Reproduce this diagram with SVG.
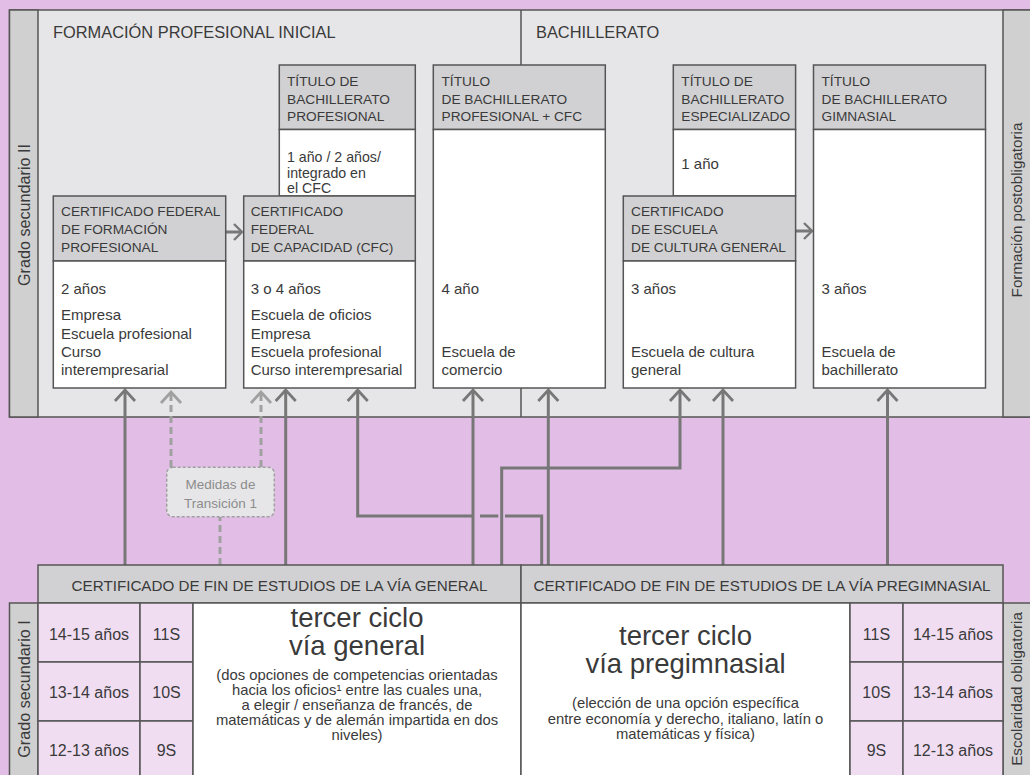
<svg xmlns="http://www.w3.org/2000/svg" width="1030" height="775" viewBox="0 0 1030 775">
<defs>
<style>
text{font-family:"Liberation Sans",Arial,sans-serif;fill:#3a3a3a}
.sec{font-size:16.4px}
.hd{font-size:13.7px}
.bd{font-size:15px}
.bds{font-size:14.2px}
.cert{font-size:15.2px}
.big{font-size:27.5px}
.par{font-size:14.8px}
.age{font-size:16px}
.vt{font-size:15.2px}
.vt2{font-size:16.2px}
.med{font-size:13.5px;fill:#8c8c8c}
.frame{stroke:#555;stroke-width:1.5}
.hdr{fill:#d1d1d3}
.wht{fill:#fff}
.band{fill:#d0d0d0}
.pink{fill:#f0ddf2}
.con{fill:none;stroke:#777;stroke-width:3}
.dash{fill:none;stroke:#a0a0a0;stroke-width:3;stroke-dasharray:7 4}
</style>
<marker id="ah" viewBox="-13 -12 16 24" refX="0" refY="0" markerWidth="16" markerHeight="24" markerUnits="userSpaceOnUse" orient="auto"><path d="M-11,-10 L0,0 L-11,10" fill="none" stroke="#777" stroke-width="2.8"/></marker>
<marker id="ahl" viewBox="-13 -12 16 24" refX="0" refY="0" markerWidth="16" markerHeight="24" markerUnits="userSpaceOnUse" orient="auto"><path d="M-11,-10 L0,0 L-11,10" fill="none" stroke="#a0a0a0" stroke-width="2.8"/></marker>
<marker id="ahs" viewBox="-10 -10 12 20" refX="0" refY="0" markerWidth="12" markerHeight="20" markerUnits="userSpaceOnUse" orient="auto"><path d="M-8,-8 L0,0 L-8,8" fill="none" stroke="#777" stroke-width="2.4"/></marker>
</defs>
<rect x="0" y="0" width="1030" height="775" fill="#e2bee6"/>

<g id="panel-top">
<rect x="9.5" y="10" width="1030" height="407" fill="#e6e6e8" class="frame"/>
<rect x="9.5" y="10" width="28.5" height="407" class="band frame"/>
<rect x="1003" y="10" width="40" height="407" class="band frame"/>
<line x1="521" y1="10" x2="521" y2="417" class="frame"/>
<text class="sec" x="53" y="38">FORMACIÓN PROFESIONAL INICIAL</text>
<text class="sec" x="536" y="38">BACHILLERATO</text>
<text class="vt2" text-anchor="middle" transform="translate(29.5,215) rotate(-90)">Grado secundario II</text>
<text class="vt" text-anchor="middle" transform="translate(1022,210) rotate(-90)">Formación postobligatoria</text>
</g>

<g id="connectors">
<path class="con" d="M125,565 V390" marker-end="url(#ah)"/>
<path class="con" d="M285.7,565 V390" marker-end="url(#ah)"/>
<path class="con" d="M473,565 V390" marker-end="url(#ah)"/>
<path class="con" d="M548.3,565 V390" marker-end="url(#ah)"/>
<path class="con" d="M723,565 V390" marker-end="url(#ah)"/>
<path class="con" d="M887.5,565 V390" marker-end="url(#ah)"/>
<path class="con" d="M501.7,565 V468 H680 V390" marker-end="url(#ah)"/>
<path class="con" d="M541.7,565 V516 H505"/>
<path class="con" d="M498.3,516 H480"/>
<path class="con" d="M472,516 H357.7 V390" marker-end="url(#ah)"/>
<path class="dash" d="M171,467 V392" marker-end="url(#ahl)"/>
<path class="dash" d="M261,467 V392" marker-end="url(#ahl)"/>
<path class="dash" d="M220,565 V517"/>
<path class="con" d="M226,232 H242" marker-end="url(#ahs)"/>
<path class="con" d="M796,231 H812" marker-end="url(#ahs)"/>
</g>

<g id="node-titulo-bach-prof">
<rect x="279.3" y="65" width="136" height="64.5" class="hdr frame"/>
<rect x="279.3" y="129.5" width="136" height="66.5" class="wht frame"/>
<text class="hd" x="287" y="86">TÍTULO DE</text>
<text class="hd" x="287" y="103.5">BACHILLERATO</text>
<text class="hd" x="287" y="121">PROFESIONAL</text>
<text class="bds" x="287" y="161.5">1 año / 2 años/</text>
<text class="bds" x="287" y="177.5">integrado en</text>
<text class="bds" x="287" y="193">el CFC</text>
</g>

<g id="node-titulo-bach-prof-cfc">
<rect x="433.3" y="65" width="172" height="64.5" class="hdr frame"/>
<rect x="433.3" y="129.5" width="172" height="258.5" class="wht frame"/>
<text class="hd" x="441.5" y="86">TÍTULO</text>
<text class="hd" x="441.5" y="103.5">DE BACHILLERATO</text>
<text class="hd" x="441.5" y="121">PROFESIONAL + CFC</text>
<text class="bd" x="441.5" y="294">4 año</text>
<text class="bd" x="441.5" y="357">Escuela de</text>
<text class="bd" x="441.5" y="375">comercio</text>
</g>

<g id="node-titulo-bach-esp">
<rect x="673.3" y="65" width="122.3" height="64.5" class="hdr frame"/>
<rect x="673.3" y="129.5" width="122.3" height="66.5" class="wht frame"/>
<text class="hd" x="681.3" y="86">TÍTULO DE</text>
<text class="hd" x="681.3" y="103.5">BACHILLERATO</text>
<text class="hd" x="681.3" y="121">ESPECIALIZADO</text>
<text class="bd" x="681.3" y="169">1 año</text>
</g>

<g id="node-titulo-bach-gimn">
<rect x="813.5" y="65" width="172" height="64.5" class="hdr frame"/>
<rect x="813.5" y="129.5" width="172" height="258.5" class="wht frame"/>
<text class="hd" x="821.5" y="86">TÍTULO</text>
<text class="hd" x="821.5" y="103.5">DE BACHILLERATO</text>
<text class="hd" x="821.5" y="121">GIMNASIAL</text>
<text class="bd" x="821.5" y="294">3 años</text>
<text class="bd" x="821.5" y="357">Escuela de</text>
<text class="bd" x="821.5" y="375">bachillerato</text>
</g>

<g id="node-cert-fed-form">
<rect x="53.3" y="196" width="172.4" height="65" class="hdr frame"/>
<rect x="53.3" y="261" width="172.4" height="127" class="wht frame"/>
<text class="hd" x="61" y="216">CERTIFICADO FEDERAL</text>
<text class="hd" x="61" y="234">DE FORMACIÓN</text>
<text class="hd" x="61" y="252">PROFESIONAL</text>
<text class="bd" x="61" y="294">2 años</text>
<text class="bd" x="61" y="320">Empresa</text>
<text class="bd" x="61" y="338.5">Escuela profesional</text>
<text class="bd" x="61" y="357">Curso</text>
<text class="bd" x="61" y="375">interempresarial</text>
</g>

<g id="node-cfc">
<rect x="243.7" y="196" width="171.6" height="65" class="hdr frame"/>
<rect x="243.7" y="261" width="171.6" height="127" class="wht frame"/>
<text class="hd" x="250.7" y="216">CERTIFICADO</text>
<text class="hd" x="250.7" y="234">FEDERAL</text>
<text class="hd" x="250.7" y="252">DE CAPACIDAD (CFC)</text>
<text class="bd" x="250.7" y="294">3 o 4 años</text>
<text class="bd" x="250.7" y="320">Escuela de oficios</text>
<text class="bd" x="250.7" y="338.5">Empresa</text>
<text class="bd" x="250.7" y="357">Escuela profesional</text>
<text class="bd" x="250.7" y="375">Curso interempresarial</text>
</g>

<g id="node-cert-cultura">
<rect x="623.3" y="196" width="172.3" height="65" class="hdr frame"/>
<rect x="623.3" y="261" width="172.3" height="127" class="wht frame"/>
<text class="hd" x="631" y="216">CERTIFICADO</text>
<text class="hd" x="631" y="234">DE ESCUELA</text>
<text class="hd" x="631" y="252">DE CULTURA GENERAL</text>
<text class="bd" x="631" y="294">3 años</text>
<text class="bd" x="631" y="357">Escuela de cultura</text>
<text class="bd" x="631" y="375">general</text>
</g>

<g id="node-medidas">
<rect x="166.7" y="467.3" width="107.6" height="49.4" rx="6" fill="#e6e6e8" stroke="#a0a0a0" stroke-width="1.5" stroke-dasharray="3 2"/>
<text class="med" x="220.5" y="489.3" text-anchor="middle">Medidas de</text>
<text class="med" x="220.5" y="507.7" text-anchor="middle">Transición 1</text>
</g>

<g id="node-cert-general">
<rect x="38" y="565" width="483" height="38" class="hdr frame"/>
<text class="cert" x="279.5" y="591" text-anchor="middle">CERTIFICADO DE FIN DE ESTUDIOS DE LA VÍA GENERAL</text>
</g>

<g id="node-cert-pregimn">
<rect x="521" y="565" width="482" height="38" class="hdr frame"/>
<text class="cert" x="762" y="591" text-anchor="middle">CERTIFICADO DE FIN DE ESTUDIOS DE LA VÍA PREGIMNASIAL</text>
</g>

<g id="node-grado-sec-1">
<rect x="9.5" y="603" width="28.5" height="190" class="band frame"/>
<text class="vt2" text-anchor="middle" transform="translate(29.5,689) rotate(-90)">Grado secundario I</text>
<rect x="1003" y="603" width="40" height="190" class="band frame"/>
<text class="vt" text-anchor="middle" transform="translate(1022,689) rotate(-90)">Escolaridad obligatoria</text>
</g>

<g id="node-rows-left">
<rect x="38" y="603" width="102" height="59" class="pink frame"/>
<rect x="140" y="603" width="53" height="59" class="pink frame"/>
<rect x="38" y="662" width="102" height="59" class="pink frame"/>
<rect x="140" y="662" width="53" height="59" class="pink frame"/>
<rect x="38" y="721" width="102" height="70" class="pink frame"/>
<rect x="140" y="721" width="53" height="70" class="pink frame"/>
<text class="age" x="89" y="640" text-anchor="middle">14-15 años</text>
<text class="age" x="166.5" y="640" text-anchor="middle">11S</text>
<text class="age" x="89" y="698" text-anchor="middle">13-14 años</text>
<text class="age" x="166.5" y="698" text-anchor="middle">10S</text>
<text class="age" x="89" y="756" text-anchor="middle">12-13 años</text>
<text class="age" x="166.5" y="756" text-anchor="middle">9S</text>
</g>

<g id="node-via-general">
<rect x="193" y="603" width="328" height="190" class="wht frame"/>
<text class="big" x="357" y="627" text-anchor="middle">tercer ciclo</text>
<text class="big" x="357" y="655" text-anchor="middle">vía general</text>
<text class="par" x="357" y="680" text-anchor="middle">(dos opciones de competencias orientadas</text>
<text class="par" x="357" y="695" text-anchor="middle">hacia los oficios¹ entre las cuales una,</text>
<text class="par" x="357" y="710" text-anchor="middle">a elegir / enseñanza de francés, de</text>
<text class="par" x="357" y="725" text-anchor="middle">matemáticas y de alemán impartida en dos</text>
<text class="par" x="357" y="740" text-anchor="middle">niveles)</text>
</g>

<g id="node-via-pregimn">
<rect x="521" y="603" width="329" height="190" class="wht frame"/>
<text class="big" x="685.5" y="645" text-anchor="middle">tercer ciclo</text>
<text class="big" x="685.5" y="673" text-anchor="middle">vía pregimnasial</text>
<text class="par" x="685.5" y="708" text-anchor="middle">(elección de una opción específica</text>
<text class="par" x="685.5" y="723.5" text-anchor="middle">entre economía y derecho, italiano, latín o</text>
<text class="par" x="685.5" y="739" text-anchor="middle">matemáticas y física)</text>
</g>

<g id="node-rows-right">
<rect x="850" y="603" width="53" height="59" class="pink frame"/>
<rect x="903" y="603" width="100" height="59" class="pink frame"/>
<rect x="850" y="662" width="53" height="59" class="pink frame"/>
<rect x="903" y="662" width="100" height="59" class="pink frame"/>
<rect x="850" y="721" width="53" height="70" class="pink frame"/>
<rect x="903" y="721" width="100" height="70" class="pink frame"/>
<text class="age" x="876.5" y="640" text-anchor="middle">11S</text>
<text class="age" x="953" y="640" text-anchor="middle">14-15 años</text>
<text class="age" x="876.5" y="698" text-anchor="middle">10S</text>
<text class="age" x="953" y="698" text-anchor="middle">13-14 años</text>
<text class="age" x="876.5" y="756" text-anchor="middle">9S</text>
<text class="age" x="953" y="756" text-anchor="middle">12-13 años</text>
</g>
</svg>
